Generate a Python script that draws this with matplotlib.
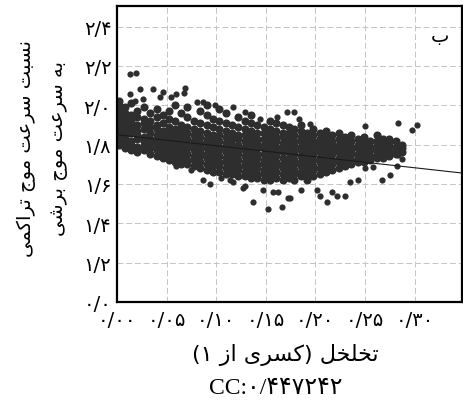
import matplotlib
matplotlib.use("Agg")
import matplotlib.pyplot as plt

col_x = [0.002, 0.008, 0.014, 0.020, 0.027, 0.033, 0.040, 0.046, 0.052, 0.059,
         0.065, 0.071, 0.078, 0.084, 0.091, 0.097, 0.103, 0.110, 0.116, 0.122,
         0.129, 0.135, 0.141, 0.148, 0.154, 0.160, 0.167, 0.173, 0.179, 0.186,
         0.192, 0.198, 0.205, 0.211, 0.217, 0.224, 0.230, 0.236, 0.243, 0.249,
         0.255, 0.262, 0.268, 0.274, 0.281, 0.287]
col_y = [
    [1.80, 1.83, 1.86, 1.88, 1.91, 1.94, 1.97, 2.00, 2.02],
    [1.78, 1.81, 1.84, 1.85, 1.88, 1.90, 1.93, 1.96, 1.99],
    [1.77, 1.80, 1.82, 1.86, 1.89, 1.92, 1.95, 2.01],
    [1.76, 1.79, 1.83, 1.85, 1.87, 1.90, 1.94, 1.97],
    [1.77, 1.80, 1.82, 1.84, 1.88, 1.91, 1.93, 1.99],
    [1.75, 1.78, 1.81, 1.83, 1.86, 1.89, 1.92, 1.96],
    [1.74, 1.77, 1.80, 1.82, 1.85, 1.88, 1.90, 1.94, 1.98],
    [1.73, 1.76, 1.79, 1.81, 1.84, 1.87, 1.91, 1.95],
    [1.72, 1.75, 1.78, 1.80, 1.83, 1.86, 1.89, 1.93, 1.97],
    [1.71, 1.74, 1.77, 1.79, 1.82, 1.85, 1.88, 1.92, 2.00],
    [1.70, 1.73, 1.76, 1.79, 1.81, 1.84, 1.87, 1.90, 1.96],
    [1.70, 1.72, 1.75, 1.78, 1.80, 1.83, 1.86, 1.89, 1.94, 1.99],
    [1.69, 1.72, 1.74, 1.77, 1.80, 1.82, 1.85, 1.88, 1.92],
    [1.68, 1.71, 1.74, 1.76, 1.79, 1.81, 1.84, 1.87, 1.91, 1.97],
    [1.67, 1.70, 1.73, 1.75, 1.78, 1.81, 1.83, 1.86, 1.90, 1.95, 2.00],
    [1.66, 1.69, 1.72, 1.75, 1.77, 1.80, 1.83, 1.85, 1.89, 1.93],
    [1.66, 1.69, 1.71, 1.74, 1.77, 1.79, 1.82, 1.85, 1.88, 1.92, 1.98],
    [1.65, 1.68, 1.71, 1.73, 1.76, 1.79, 1.81, 1.84, 1.87, 1.91, 1.96],
    [1.65, 1.67, 1.70, 1.73, 1.75, 1.78, 1.80, 1.83, 1.86, 1.90],
    [1.64, 1.67, 1.69, 1.72, 1.75, 1.77, 1.80, 1.83, 1.85, 1.89, 1.94],
    [1.64, 1.66, 1.69, 1.71, 1.74, 1.77, 1.79, 1.82, 1.85, 1.88, 1.92],
    [1.63, 1.66, 1.68, 1.71, 1.73, 1.76, 1.79, 1.81, 1.84, 1.87, 1.91, 1.95],
    [1.63, 1.65, 1.68, 1.70, 1.73, 1.75, 1.78, 1.81, 1.83, 1.86, 1.90],
    [1.62, 1.65, 1.67, 1.70, 1.72, 1.75, 1.78, 1.80, 1.83, 1.86, 1.89],
    [1.62, 1.64, 1.67, 1.69, 1.72, 1.74, 1.77, 1.80, 1.82, 1.85, 1.88, 1.92],
    [1.63, 1.66, 1.69, 1.71, 1.74, 1.76, 1.79, 1.82, 1.84, 1.87, 1.91],
    [1.62, 1.65, 1.68, 1.70, 1.73, 1.76, 1.78, 1.81, 1.84, 1.86, 1.90],
    [1.63, 1.66, 1.68, 1.71, 1.73, 1.76, 1.78, 1.81, 1.83, 1.86, 1.89],
    [1.62, 1.65, 1.67, 1.70, 1.72, 1.75, 1.77, 1.80, 1.82, 1.85, 1.88],
    [1.64, 1.66, 1.69, 1.71, 1.74, 1.77, 1.79, 1.82, 1.84, 1.87, 1.90],
    [1.62, 1.65, 1.68, 1.70, 1.73, 1.76, 1.78, 1.81, 1.83, 1.86],
    [1.64, 1.67, 1.69, 1.72, 1.75, 1.77, 1.80, 1.82, 1.85, 1.88],
    [1.65, 1.68, 1.71, 1.73, 1.76, 1.78, 1.81, 1.83, 1.86],
    [1.66, 1.69, 1.72, 1.74, 1.77, 1.79, 1.82, 1.84, 1.87],
    [1.67, 1.70, 1.72, 1.75, 1.77, 1.80, 1.82, 1.85],
    [1.68, 1.71, 1.73, 1.76, 1.78, 1.80, 1.83, 1.86],
    [1.69, 1.71, 1.74, 1.76, 1.79, 1.81, 1.84],
    [1.70, 1.72, 1.75, 1.77, 1.79, 1.82, 1.85],
    [1.71, 1.73, 1.75, 1.78, 1.80, 1.83],
    [1.71, 1.74, 1.76, 1.78, 1.81, 1.84],
    [1.72, 1.74, 1.77, 1.79, 1.82],
    [1.73, 1.75, 1.77, 1.80, 1.82, 1.85],
    [1.73, 1.76, 1.78, 1.80, 1.83],
    [1.74, 1.76, 1.79, 1.81, 1.83],
    [1.75, 1.77, 1.79, 1.82],
    [1.76, 1.78, 1.80],
]

# scattered points above and below the main cloud
upper_x = [0.013, 0.019, 0.023, 0.036, 0.046, 0.069, 0.068, 0.060, 0.055, 0.018,
           0.026, 0.043, 0.081, 0.087, 0.099, 0.013, 0.117, 0.129, 0.144, 0.161,
           0.171, 0.179, 0.184, 0.195, 0.212, 0.250, 0.263, 0.283, 0.297, 0.302,
           0.283, 0.287]
upper_y = [2.16, 2.165, 2.08, 2.08, 2.065, 2.09, 2.06, 2.055, 2.04, 2.02,
           2.03, 2.04, 2.015, 2.015, 2.00, 2.055, 1.99, 1.965, 1.93, 1.94,
           1.965, 1.965, 1.93, 1.905, 1.855, 1.895, 1.845, 1.91, 1.875, 1.90,
           1.745, 1.726]
lower_x = [0.060, 0.075, 0.087, 0.094, 0.105, 0.117, 0.114, 0.127, 0.129, 0.137,
           0.147, 0.152, 0.157, 0.162, 0.166, 0.172, 0.174, 0.186, 0.202, 0.205,
           0.212, 0.217, 0.222, 0.230, 0.235, 0.243, 0.250, 0.258, 0.267, 0.275,
           0.282]
lower_y = [1.69, 1.67, 1.62, 1.60, 1.63, 1.61, 1.62, 1.58, 1.59, 1.51,
           1.57, 1.47, 1.56, 1.56, 1.48, 1.53, 1.53, 1.57, 1.57, 1.54,
           1.51, 1.56, 1.54, 1.54, 1.61, 1.62, 1.68, 1.685, 1.62, 1.645,
           1.69]

# trend line end points
fit_x = [0.0, 0.35]
fit_y = [1.85, 1.654]

x_ticks = [0.00, 0.05, 0.10, 0.15, 0.20, 0.25, 0.30]
x_labels = ["۰/۰۰", "۰/۰۵", "۰/۱۰", "۰/۱۵", "۰/۲۰", "۰/۲۵", "۰/۳۰"]
y_ticks = [1.0, 1.2, 1.4, 1.6, 1.8, 2.0, 2.2, 2.4]
y_labels = ["۰/۰", "۱/۲", "۱/۴", "۱/۶", "۱/۸", "۲/۰", "۲/۲", "۲/۴"]

y_title1 = "نسبت سرعت موج تراکمی"
y_title2 = "به سرعت موج برشی"
x_title = "تخلخل (کسری از ۱)"
cc_text = "CC:۰/۴۴۷۲۴۲"
panel = "ب"

# matplotlib has no arabic shaping, so pick presentation forms by hand
FORMS = {
    'ا': ('\uFE8D', '\uFE8E', None, None),
    'ب': ('\uFE8F', '\uFE90', '\uFE91', '\uFE92'),
    'ت': ('\uFE95', '\uFE96', '\uFE97', '\uFE98'),
    'ج': ('\uFE9D', '\uFE9E', '\uFE9F', '\uFEA0'),
    'خ': ('\uFEA5', '\uFEA6', '\uFEA7', '\uFEA8'),
    'ر': ('\uFEAD', '\uFEAE', None, None),
    'ز': ('\uFEAF', '\uFEB0', None, None),
    'س': ('\uFEB1', '\uFEB2', '\uFEB3', '\uFEB4'),
    'ش': ('\uFEB5', '\uFEB6', '\uFEB7', '\uFEB8'),
    'ع': ('\uFEC9', '\uFECA', '\uFECB', '\uFECC'),
    'ل': ('\uFEDD', '\uFEDE', '\uFEDF', '\uFEE0'),
    'م': ('\uFEE1', '\uFEE2', '\uFEE3', '\uFEE4'),
    'ن': ('\uFEE5', '\uFEE6', '\uFEE7', '\uFEE8'),
    'ه': ('\uFEE9', '\uFEEA', '\uFEEB', '\uFEEC'),
    'و': ('\uFEED', '\uFEEE', None, None),
    'ک': ('\uFED9', '\uFEDA', '\uFEDB', '\uFEDC'),
    'ی': ('\uFEEF', '\uFEF0', '\uFEF3', '\uFEF4'),
}


def shape(text):
    out = []
    for i, ch in enumerate(text):
        if ch not in FORMS:
            out.append(ch)
            continue
        prev = text[i - 1] if i > 0 else ''
        nxt = text[i + 1] if i + 1 < len(text) else ''
        jp = prev in FORMS and FORMS[prev][2] is not None
        jn = FORMS[ch][2] is not None and nxt in FORMS
        iso, fin, ini, med = FORMS[ch]
        if jp and jn:
            out.append(med)
        elif jp:
            out.append(fin)
        elif jn:
            out.append(ini)
        else:
            out.append(iso)
    s = ''.join(out)[::-1]
    return s.translate(str.maketrans('()', ')('))


core_x = []
core_y = []
for cx, cy in zip(col_x, col_y):
    for v in cy:
        core_x.append(cx)
        core_y.append(v)

fig = plt.figure(figsize=(4.64, 4.06), dpi=100)
ax = fig.add_axes([0.252, 0.254, 0.744, 0.729])

ax.scatter(core_x, core_y, s=34, color='#2e2e2e', linewidths=0, zorder=2)
ax.scatter(upper_x + lower_x, upper_y + lower_y, s=20, color='#2e2e2e',
           linewidths=0, zorder=2)
ax.plot(fit_x, fit_y, color='#1a1a1a', lw=0.8, zorder=3)

ax.set_xlim(0, 0.348)
ax.set_ylim(1.0, 2.505)
ax.set_xticks(x_ticks)
ax.set_xticklabels(x_labels, fontsize=14)
ax.set_yticks(y_ticks)
ax.set_yticklabels(y_labels, fontsize=14)
ax.tick_params(length=0)
ax.tick_params(axis='x', pad=6)
ax.tick_params(axis='y', pad=4)
ax.grid(True, color='#c4c4c4', linestyle=(0, (6, 3)), linewidth=0.7, zorder=0)
ax.set_axisbelow(True)
for sp in ax.spines.values():
    sp.set_linewidth(1.6)

ax.text(0.935, 0.90, shape(panel), transform=ax.transAxes, fontsize=14,
        ha='center', va='center')

fig.text(0.056, 0.635, shape(y_title1), rotation=90, fontsize=14,
         ha='center', va='center')
fig.text(0.127, 0.635, shape(y_title2), rotation=90, fontsize=14,
         ha='center', va='center')
fig.text(0.614, 0.125, shape(x_title), fontsize=16, ha='center', va='center')
fig.text(0.595, 0.042, cc_text, fontsize=17, ha='center', va='center',
         family=['Liberation Serif', 'DejaVu Sans'])

fig.savefig("out.png", dpi=100)
